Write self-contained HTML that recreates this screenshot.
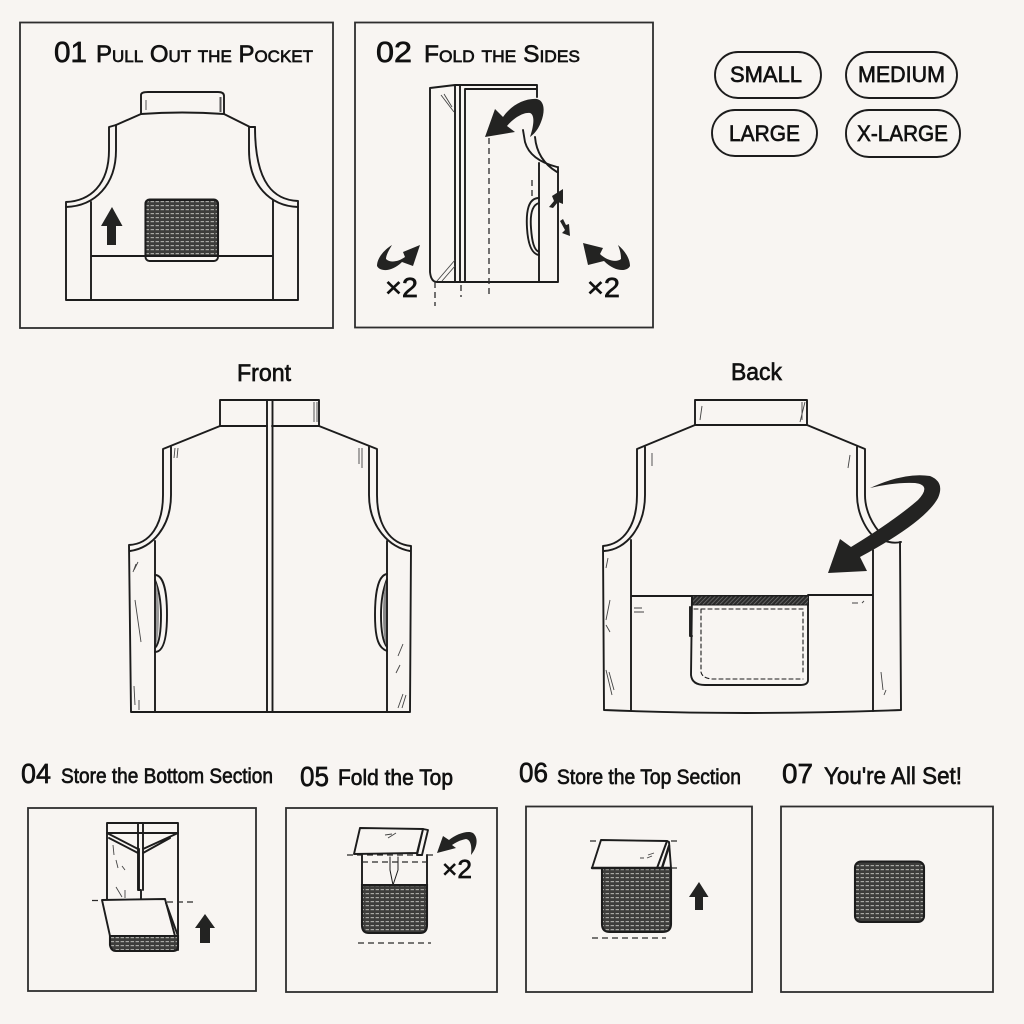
<!DOCTYPE html>
<html><head><meta charset="utf-8"><title>Vest folding guide</title>
<style>
html,body{margin:0;padding:0;background:#f8f5f2}
svg{display:block}
text{font-family:"Liberation Sans","DejaVu Sans",sans-serif;fill:#111;stroke:#111;stroke-width:.65}
.sc{font-variant:small-caps}
.n{fill:none;stroke:#1c1c1c;stroke-width:1.9;stroke-linejoin:round;stroke-linecap:round}
.t{fill:none;stroke:#444;stroke-width:.9}
.b{fill:none;stroke:#2e2e2e;stroke-width:1.8}
.d{fill:none;stroke:#2a2a2a;stroke-width:1.3;stroke-dasharray:6 4}
.k{fill:#232322;stroke:none}
.f{fill:#f8f5f2;stroke:#1c1c1c;stroke-width:1.9;stroke-linejoin:round}
.x{fill:url(#weave);stroke:#1c1c1c;stroke-width:2.1}
</style></head><body>
<svg width="1024" height="1024" viewBox="0 0 1024 1024" xmlns="http://www.w3.org/2000/svg">
<defs>
<pattern id="weave" width="5" height="4" patternUnits="userSpaceOnUse">
<rect width="5" height="4" fill="#3d3d3b"/>
<rect x=".6" y="1" width="3.4" height="1.2" fill="#a8a8a4"/>
</pattern>
<pattern id="hatch" width="3" height="3" patternUnits="userSpaceOnUse" patternTransform="rotate(45)">
<rect width="3" height="3" fill="#2a2a2a"/><rect width=".7" height="3" fill="#777"/>
</pattern>
</defs>
<rect width="1024" height="1024" fill="#f8f5f2"/>

<!-- Panels -->
<rect class="b" x="20" y="22.500" width="313" height="305.500"/>
<rect class="b" x="355" y="22.500" width="298" height="305"/>
<rect class="b" x="28" y="808" width="228" height="183"/>
<rect class="b" x="286" y="808" width="211" height="184"/>
<rect class="b" x="526" y="806.500" width="226" height="185.500"/>
<rect class="b" x="781" y="806.500" width="212" height="185.500"/>

<!-- Titles -->
<text x="54" y="62" font-size="29" textLength="33" lengthAdjust="spacingAndGlyphs">01</text>
<text class="sc" x="96" y="62" font-size="24" textLength="217" lengthAdjust="spacingAndGlyphs">Pull Out the Pocket</text>
<text x="376" y="62" font-size="29" textLength="36" lengthAdjust="spacingAndGlyphs">02</text>
<text class="sc" x="424" y="62" font-size="24" textLength="156" lengthAdjust="spacingAndGlyphs">Fold the Sides</text>
<text x="237" y="381" font-size="24" textLength="54" lengthAdjust="spacingAndGlyphs">Front</text>
<text x="731" y="380" font-size="24" textLength="51" lengthAdjust="spacingAndGlyphs">Back</text>
<text x="21" y="783" font-size="28" textLength="30" lengthAdjust="spacingAndGlyphs">04</text>
<text x="61" y="783" font-size="21" textLength="212" lengthAdjust="spacingAndGlyphs">Store the Bottom Section</text>
<text x="300" y="786" font-size="28" textLength="29" lengthAdjust="spacingAndGlyphs">05</text>
<text x="338" y="785" font-size="22" textLength="115" lengthAdjust="spacingAndGlyphs">Fold the Top</text>
<text x="519" y="782" font-size="28" textLength="29" lengthAdjust="spacingAndGlyphs">06</text>
<text x="557" y="784" font-size="21" textLength="184" lengthAdjust="spacingAndGlyphs">Store the Top Section</text>
<text x="782" y="783" font-size="28" textLength="31" lengthAdjust="spacingAndGlyphs">07</text>
<text x="824" y="784" font-size="24" textLength="138" lengthAdjust="spacingAndGlyphs">You're All Set!</text>

<!-- Size pills -->
<rect class="n" x="715" y="52" width="106" height="46" rx="23"/>
<rect class="n" x="846" y="52" width="111" height="46" rx="23"/>
<rect class="n" x="712" y="110" width="105" height="46" rx="23"/>
<rect class="n" x="846" y="110" width="114" height="47" rx="23"/>
<text x="730" y="82" font-size="22" textLength="72" lengthAdjust="spacingAndGlyphs">SMALL</text>
<text x="858" y="82" font-size="22" textLength="87" lengthAdjust="spacingAndGlyphs">MEDIUM</text>
<text x="729" y="141" font-size="22" textLength="71" lengthAdjust="spacingAndGlyphs">LARGE</text>
<text x="857" y="141" font-size="22" textLength="91" lengthAdjust="spacingAndGlyphs">X-LARGE</text>

<!-- Panel 1 vest -->
<path class="n" d="M141,113V95Q141,92 148,92H218Q224,92 224,96V114"/>
<path class="n" d="M141,114Q182,111 224,114L250,127H255"/>
<path class="n" d="M141,114L116,125L109,127V150C109,185 90,201 66,202V300H298V201C275,200 255,185 255,127"/>
<path class="n" d="M116,125V150C116,185 95,206 66,207"/>
<path class="n" d="M249,127V150C249,185 270,206 298,207"/>
<path class="n" d="M91,202V300M273,200V300M91,256H145M218,256H273"/>
<path class="t" d="M146,100V110M220,97V112M221,97V112"/>
<rect class="f" x="145.500" y="199.500" width="72.500" height="61.500" rx="4"/>
<path class="x" d="M145.500,256V204Q145.500,200 150,200H213Q218,200 218,204V256Z"/>
<path class="k" d="M112,207L122.500,226H116V245H107V226H101Z"/>

<!-- Panel 2 fold -->
<path class="n" d="M430,88L455,85H537V97M430,88V272Q431,282 437,282H558V172M455,85V281M460,85V281M465,89V281M465,89H537"/>
<path class="n" d="M523,130L525,142Q530,160 557,167M535,137Q537,160 557,172M539,163V282M558,167V172"/>
<path class="t" d="M441,95L454,112M444,94L452,107M437,281L455,260M442,281L455,266"/>
<path class="n" d="M539,198C528,198 526,212 527,228C528,245 532,254 539,255M539,203C532,205 530,215 531,228C532,242 534,250 539,252"/>
<path class="d" d="M489,138V295M532,180V197M435,282V306M461,285V297"/>
<path class="k" d="M485,137L495,109L503,117C512,104 526,98 537,99C545,101 545,112 541,122C538,130 534,134 530,137C534,125 535,115 530,113C522,112 512,120 507,126L515,132Z"/>
<path class="k" d="M549,207L554,201L552,196L563,189L563,204L558,202L553,208ZM560,221L563,219L566,225L569,224L570,236L562,233L565,230Z"/>
<path class="k" d="M392,245C384,250 377,258 377,266C380,272 392,272 402,262L413,266L420,245L403,252L405,257C398,262 390,263 386,259C386,255 389,250 392,245Z"/>
<path class="k" d="M618,245C624,250 630,258 630,266C627,272 615,272 604,261L588,265L583,243L603,248L600,254C606,260 616,263 621,259C621,254 620,250 618,245Z"/>
<text x="385" y="297" font-size="28" textLength="33" lengthAdjust="spacingAndGlyphs">×2</text>
<text x="587" y="297" font-size="28" textLength="33" lengthAdjust="spacingAndGlyphs">×2</text>

<!-- Front vest -->
<path class="n" d="M220,426V400H319V426M220,426L163,449V495C163,525 150,544 129,545L131,712H410L411,546C390,544 377,525 377,495V449L319,426M220,426H267M272,426H319"/>
<path class="n" d="M171,447V495C171,527 152,548 130,551M369,447V495C369,527 390,548 410,551M155,541V712M387,541V712M267,400V712M272.500,400V712"/>
<path class="n" d="M155,575C163,575 167,590 167,615C167,640 163,652 155,652M155,580C159,590 161,600 161,615C161,632 159,644 155,648"/>
<path class="n" d="M387,574C379,575 375,590 375,615C375,640 379,648 387,651M387,579C383,590 381,600 381,615C381,632 383,642 387,647"/>
<path d="M156,583C160,595 160,635 156,645Z" fill="#999"/><path d="M386,582C382,595 382,635 386,645Z" fill="#888"/>
<path class="t" d="M138,562L134,570M136,564L133,572M135,600L141,642M134,686L135,705M139,700V710M175,448L174,458M178,448L177,458M359,448V464M362,448V468M314,402V422M317,402V422M403,644L398,656M400,665L396,673M403,694L398,708M406,695L402,708"/>

<!-- Back vest -->
<path class="n" d="M695,425V400H807V425M695,425H807M695,425L637,449V495C637,525 624,544 603,546L604,710Q740,716 901,710L900,542M807,425L865,449V495C865,510 872,525 883,536"/>
<path class="n" d="M645,447V495C645,527 626,550 604,551M857,447V495C857,515 868,535 880,541M631,540V710M873,550V711M631,596H692M808,595H873"/>
<path class="n" d="M883,540Q892,544 901,542"/>
<path class="t" d="M702,406L700,420M802,402V420M805,402L800,422M652,453V466M850,455L848,468M608,558L606,568M610,600L606,620M606,625L610,632M606,670L612,695M609,672L614,690M881,672L883,690M852,603H858M862,603L864,601M634,608H642M634,612H644M884,695L886,690"/>
<path class="n" d="M692,596H808V680Q808,685 800,685H705Q692,685 691,675Z"/>
<rect x="692.500" y="596" width="116" height="9" fill="url(#hatch)" stroke="#1c1c1c"/>
<path class="n" style="stroke-dasharray:4 3;stroke-width:1.1" d="M694,609H803V675M701,609V672Q702,678 712,679H803"/>
<path class="n" d="M690,607V636M692,636L690,636"/>
<path class="k" d="M870,488Q905,472 930,476Q945,482 938,498Q925,522 860,557L867,571L828,573L840,539L851,547Q895,520 918,500Q932,485 915,483Q895,482 870,488Z"/>

<!-- Panel 04 -->
<path class="n" d="M107,823H178V950M107,823V900M107,833H178M138,823V890H141V902M143,823V890M139,849V890"/>
<path class="n" d="M107,833L138,849M109,838L138,853M178,833L143,849M170,838L143,853"/>
<path class="t" d="M113,845L114,855M116,860L118,868M122,866L125,870M116,887L122,897M125,890V898"/>
<path class="x" d="M110,936H178L178,947Q178,951 172,951H116Q111,951 110,945Z"/>
<path class="f" d="M102,900L165,899L175,936L110,936Z"/>
<path class="n" d="M166,903L178,936"/>
<path class="d" d="M92,900.500H102M167,902H193"/>
<path class="k" d="M205,914L215,928H210V943H200V928H195Z"/>

<!-- Panel 05 -->
<path class="n" d="M362,855V925M427,855V925M362,885H427"/>
<path class="x" d="M362,885H427V925Q427,933 420,933H369Q362,933 362,925Z"/>
<path class="n" style="stroke-width:1" d="M390,857V870L393,885L398,870V857"/>
<path class="d" d="M362,862H427M358,943H431M347,855H435"/>
<path class="f" d="M423,829L428,830L422,855H417Z"/>
<path class="f" d="M360,828L423,829L417,853L354,854Z"/>
<path class="t" d="M385,835L392,834M388,838L396,833"/>
<path class="k" d="M437,853L443,836L449,840C456,834 468,830 473,833C479,838 477,848 471,855C472,847 471,840 466,839C460,840 455,843 452,845L456,848Z"/>
<text x="442" y="878" font-size="26" textLength="30" lengthAdjust="spacingAndGlyphs">×2</text>

<!-- Panel 06 -->
<path class="x" d="M602,868H671V924Q671,932 662,932H610Q602,932 602,924Z"/>
<path class="f" d="M667,841L669,842L671,868H657Z"/>
<path class="f" d="M601,840L667,841L657,868L592,868Z"/>
<path class="n" d="M592,868H671M662,868L669,846" style="stroke-width:2.4"/>
<path class="t" d="M640,858L644,858M648,855L654,853M647,858L652,856"/>
<path class="d" d="M590,841H600M671,841H679M671,868H679M592,938H666"/>
<path class="k" d="M699,882L708.500,897H703V910H695V897H689Z"/>

<!-- Panel 07 -->
<rect class="x" x="855" y="861.500" width="69" height="60.500" rx="6"/>
</svg>
</body></html>
